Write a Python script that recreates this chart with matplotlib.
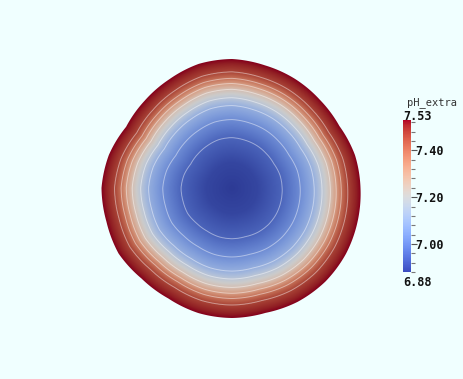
import matplotlib
matplotlib.use("Agg")
import matplotlib.pyplot as plt
import numpy as np
from matplotlib.colors import ListedColormap, Normalize
from matplotlib.patches import Polygon
from matplotlib.ticker import MultipleLocator
from matplotlib.cm import ScalarMappable

# Data
# outline of the domain: radius (mm) at each angle (deg)
edge_angle = [0, 15, 30, 45, 60, 75, 90, 105, 120, 135, 150, 165,
              180, 195, 210, 225, 240, 255, 270, 285, 300, 315, 330, 345]
edge_radius = [1.285, 1.273, 1.24, 1.245, 1.26, 1.27, 1.29, 1.285, 1.255, 1.235, 1.223, 1.275,
               1.305, 1.30, 1.31, 1.28, 1.275, 1.295, 1.30, 1.293, 1.314, 1.322, 1.316, 1.30]
# pH_extra profile vs. relative radius
rel_radius = [0.0, 0.2, 0.39, 0.53, 0.64, 0.70, 0.765, 0.81, 0.85, 0.90, 1.0]
ph_profile = [6.88, 6.90, 6.952, 7.024, 7.097, 7.169, 7.241, 7.313, 7.386, 7.458, 7.53]
ph_min, ph_max = 6.88, 7.53
cbar_ticks = [7.00, 7.20, 7.40]

bg = '#F0FFFF'
fig = plt.figure(figsize=(4.64, 3.79), dpi=100, facecolor=bg)
ax = fig.add_axes([0, 0, 1, 1])
ax.set_facecolor(bg)
ax.set_xlim(-2.32, 2.32)
ax.set_ylim(-1.91, 1.88)
ax.axis('off')

# field on a grid
x = np.linspace(-1.4, 1.4, 500)
X, Y = np.meshgrid(x, x)
th = np.degrees(np.arctan2(Y, X)) % 360
ang = np.array(edge_angle + [360])
rad = np.array(edge_radius + [edge_radius[0]])
R_edge = np.interp(th, ang, rad)
frac = np.hypot(X, Y) / R_edge
ph = np.interp(np.clip(frac, 0, 1), rel_radius, ph_profile)

# shaded version of cool-to-warm for the surface (darker at both ends)
base = plt.get_cmap('coolwarm')(np.linspace(0, 1, 256))
shade = base.copy()
s = np.linspace(0, 1, 256)
factor = np.interp(s, [0, 0.5, 1], [0.78, 0.92, 0.74])
shade[:, :3] *= factor[:, None]
surf_cmap = ListedColormap(shade)

t = np.linspace(0, 360, 721)
r_out = np.interp(t, ang, rad)
outline = np.column_stack([r_out * np.cos(np.radians(t)), r_out * np.sin(np.radians(t))])
clip = Polygon(outline, closed=True, transform=ax.transData, facecolor='none', edgecolor='none')
ax.add_patch(clip)

im = ax.imshow(ph, extent=[x[0], x[-1], x[0], x[-1]], origin='lower',
               cmap=surf_cmap, norm=Normalize(ph_min, ph_max), interpolation='bilinear')
im.set_clip_path(clip)

levels = np.linspace(ph_min, ph_max, 10)[1:-1]
cs = ax.contour(X, Y, np.ma.masked_where(frac > 1, ph), levels=levels,
                colors='white', alpha=0.45, linewidths=0.7)
cs.set_clip_path(clip)

# colorbar
cax = fig.add_axes([403 / 464, 1 - 272 / 379, 8 / 464, 152 / 379])
cb = fig.colorbar(ScalarMappable(norm=Normalize(ph_min, ph_max), cmap='coolwarm'), cax=cax)
cb.outline.set_visible(False)
cb.set_ticks(cbar_ticks)
cb.ax.yaxis.set_minor_locator(MultipleLocator(0.04))
cb.ax.set_yticklabels([f'{v:.2f}' for v in cbar_ticks], family='DejaVu Sans Mono',
                      fontsize=8.5, fontweight='bold', color='#111111')
cb.ax.tick_params(which='major', length=4, width=0.8, color='#555555', pad=-1)
cb.ax.tick_params(which='minor', length=3, width=0.8, color='#777777')

fig.text(407 / 464, 1 - 103 / 379, 'pH_extra', family='DejaVu Sans Mono', fontsize=7.5,
         color='#333333', ha='left', va='center')
fig.text(403 / 464, 1 - 116 / 379, f'{ph_max:.2f}', family='DejaVu Sans Mono', fontsize=8.5,
         fontweight='bold', color='#111111', ha='left', va='center')
fig.text(403 / 464, 1 - 283 / 379, f'{ph_min:.2f}', family='DejaVu Sans Mono', fontsize=8.5,
         fontweight='bold', color='#111111', ha='left', va='center')

fig.savefig('out.png', dpi=100, facecolor=bg)
